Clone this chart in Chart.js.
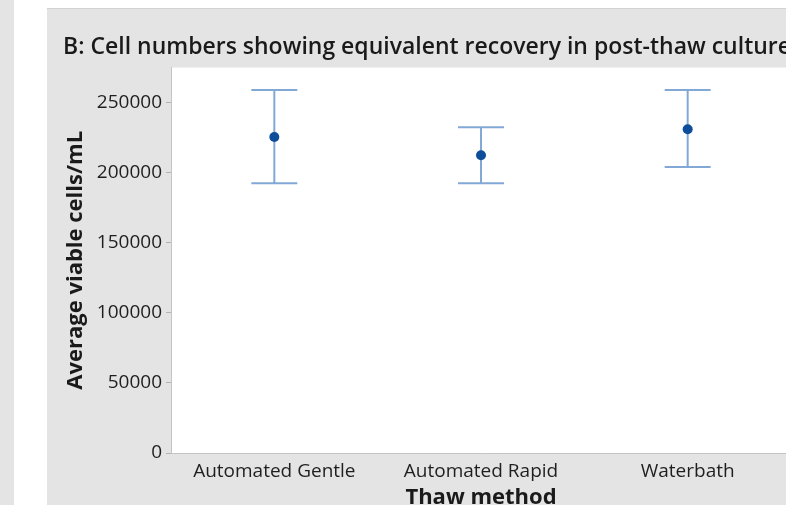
<!DOCTYPE html>
<html>
<head>
<meta charset="utf-8">
<script src="https://cdn.jsdelivr.net/npm/chart.js@4"></script>
<style>
  html, body { margin: 0; padding: 0; background: #ffffff; width: 786px; height: 505px; overflow: hidden; position: relative; }
  #strip { position: absolute; left: 0; top: 0; width: 14px; height: 505px; background: #e4e4e4; }
  #panel { position: absolute; left: 47px; top: 8px; width: 760px; height: 520px; background: #e4e4e4; border-top: 1px solid #d2d2d2; box-sizing: border-box; }
  #wrap { position: absolute; left: 0; top: 0; width: 760px; height: 520px; }
</style>
</head>
<body>
<div id="strip"></div>
<div id="panel"><div id="wrap"><canvas id="c"></canvas></div></div>
<script>
const categories = ['Automated Gentle', 'Automated Rapid', 'Waterbath'];
const means = [225500, 212500, 231000];
const upper = [259000, 232500, 259000];
const lower = [192500, 192500, 204000];
const yTicks = [0, 50000, 100000, 150000, 200000, 250000];
const titleText = 'B: Cell numbers showing equivalent recovery in post-thaw culture';
const xTitle = 'Thaw method';
const yTitle = 'Average viable cells/mL';

const FONT = "'Open Sans', 'Noto Sans', sans-serif";

const bgPlugin = {
  id: 'bg',
  beforeDraw(chart) {
    const {ctx, chartArea: a} = chart;
    ctx.save();
    ctx.fillStyle = '#ffffff';
    ctx.fillRect(a.left, a.top, a.right - a.left, a.bottom - a.top);
    ctx.restore();
  }
};

const errPlugin = {
  id: 'errbars',
  beforeDatasetsDraw(chart) {
    const {ctx, scales: {x, y}} = chart;
    ctx.save();
    ctx.strokeStyle = '#82a8d5';
    ctx.lineWidth = 2;
    const half = 23;
    categories.forEach((c, i) => {
      const px = x.getPixelForValue(i);
      const yt = y.getPixelForValue(upper[i]);
      const yb = y.getPixelForValue(lower[i]);
      ctx.beginPath();
      ctx.moveTo(px, yt); ctx.lineTo(px, yb);
      ctx.moveTo(px - half, yt); ctx.lineTo(px + half, yt);
      ctx.moveTo(px - half, yb); ctx.lineTo(px + half, yb);
      ctx.stroke();
    });
    ctx.restore();
  }
};

new Chart(document.getElementById('c'), {
  type: 'line',
  data: {
    labels: categories,
    datasets: [{
      data: means,
      showLine: false,
      pointRadius: 5,
      pointHoverRadius: 5,
      pointBackgroundColor: '#0e4d99',
      pointBorderColor: '#0e4d99',
      pointBorderWidth: 0
    }]
  },
  options: {
    responsive: true,
    maintainAspectRatio: false,
    animation: false,
    events: [],
    layout: { padding: { left: 16, right: 16, top: 0, bottom: 0 } },
    plugins: {
      legend: { display: false },
      tooltip: { enabled: false },
      title: {
        display: true,
        text: titleText,
        align: 'start',
        color: '#1a1a1a',
        font: { family: FONT, size: 23, weight: '600' },
        padding: { top: 25, bottom: 6 }
      }
    },
    scales: {
      x: {
        type: 'category',
        offset: true,
        grid: { display: true, drawOnChartArea: false, drawTicks: false },
        border: { display: true, color: '#c4c4c4', width: 1 },
        ticks: { color: '#1f1f1f', padding: 7, font: { family: FONT, size: 19 }, maxRotation: 0, autoSkip: false },
        title: { display: true, text: xTitle, color: '#1a1a1a', font: { family: FONT, size: 22, weight: 'bold' }, padding: { top: 0, bottom: 18 } },
        afterFit(scale) { scale.height = 76; }
      },
      y: {
        min: 0,
        max: 275000,
        afterBuildTicks(scale) { scale.ticks = yTicks.map(v => ({ value: v })); },
        grid: { display: true, drawOnChartArea: false, drawTicks: true, tickLength: 5, color: '#b4b4b4' },
        border: { display: true, color: '#c4c4c4', width: 1 },
        ticks: { color: '#1f1f1f', padding: 4, font: { family: FONT, size: 19 }, callback: v => String(v) },
        title: { display: true, text: yTitle, color: '#1a1a1a', font: { family: FONT, size: 22, weight: 'bold' }, padding: { top: 0, bottom: 0 } },
        afterFit(scale) { scale.width = 108; }
      }
    }
  },
  plugins: [bgPlugin, errPlugin]
});
</script>
</body>
</html>
